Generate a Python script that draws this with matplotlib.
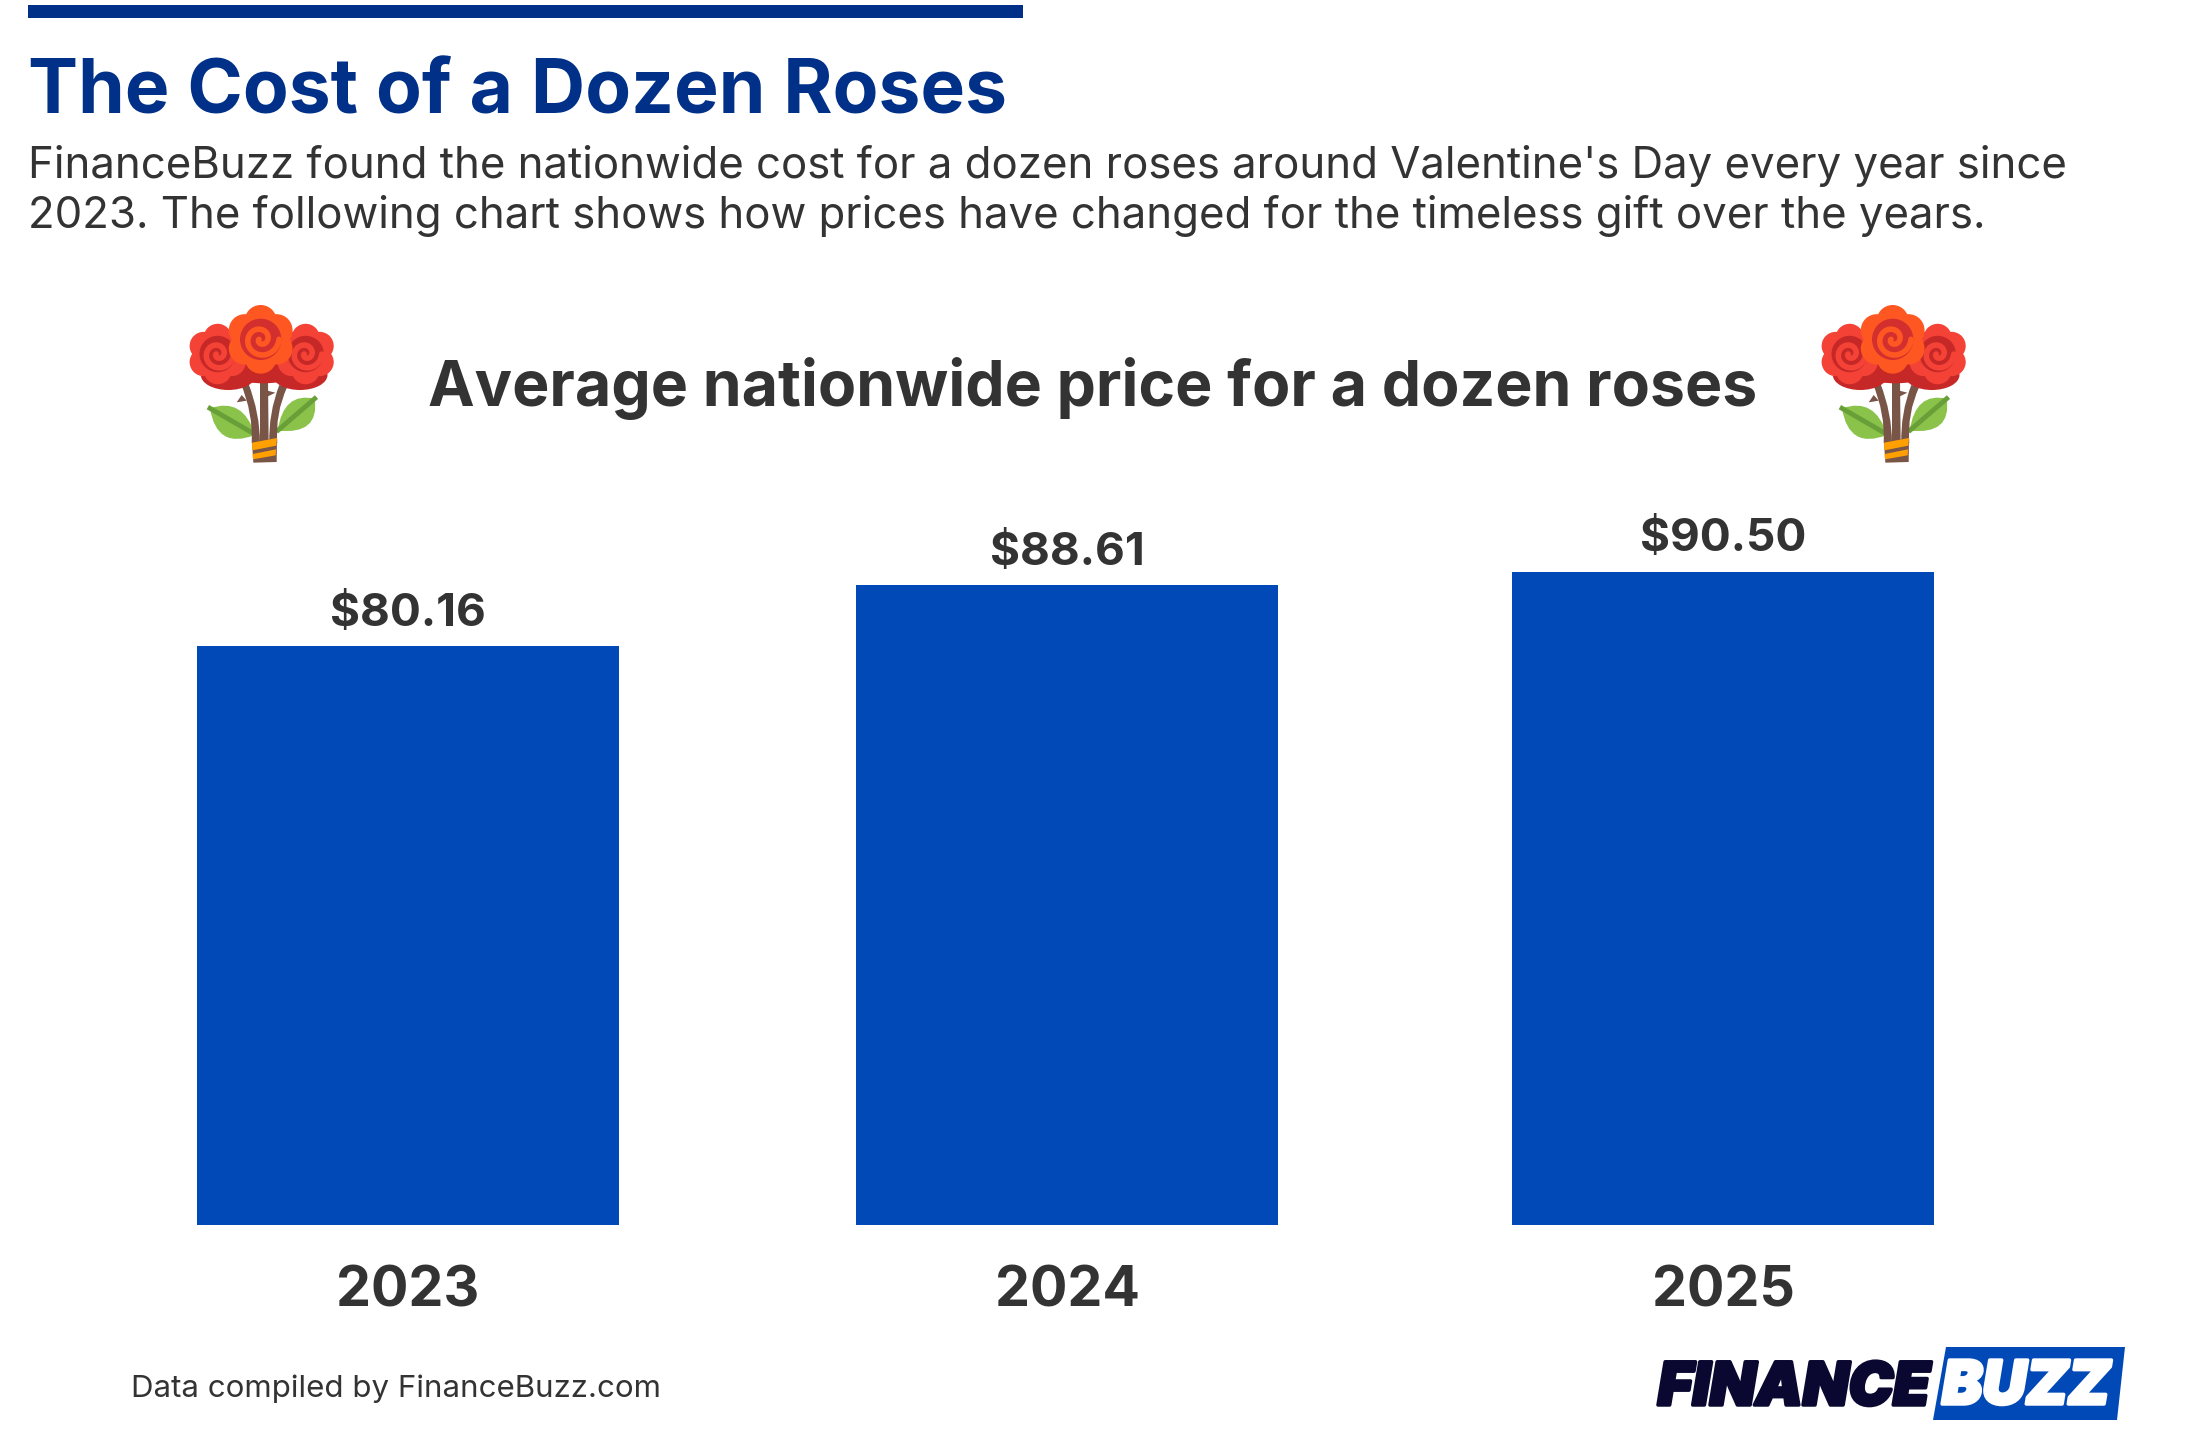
import numpy as np
import matplotlib
matplotlib.use("Agg")
import matplotlib.pyplot as plt
import matplotlib.patheffects as pe
from matplotlib.patches import Polygon, Circle, Ellipse, Rectangle, PathPatch
from matplotlib.path import Path

years = ["2023", "2024", "2025"]
prices = [80.16, 88.61, 90.50]
price_labels = ["$80.16", "$88.61", "$90.50"]

TITLE = "The Cost of a Dozen Roses"
SUB1 = "FinanceBuzz found the nationwide cost for a dozen roses around Valentine's Day every year since"
SUB2 = "2023. The following chart shows how prices have changed for the timeless gift over the years."
HEAD = "Average nationwide price for a dozen roses"
FOOT = "Data compiled by FinanceBuzz.com"

W, H = 2187, 1453
BLUE = "#0049B7"
NAVY = "#003087"
DARK = "#333333"
plt.rcParams["font.family"] = "Inter"

fig = plt.figure(figsize=(W / 100, H / 100), dpi=100, facecolor="white")

# chart axes
L, R, T, B = 78.05, 2055.95, 503, 1225
ax = fig.add_axes([L / W, 1 - B / H, (R - L) / W, (B - T) / H])
x = np.array([0, 1, 1.9955])
ax.bar(x, prices, width=0.64, color=BLUE)
ax.set_xlim(-0.5, 2.5)
ax.set_ylim(0, 100)
ax.set_xticks(x, years, fontsize=40, fontweight="bold", color=DARK)
ax.set_yticks([])
ax.tick_params(axis="x", length=0, pad=29.5)
for s in ax.spines.values():
    s.set_visible(False)
ax.patch.set_alpha(0)
for xi, v, lab in zip(x, prices, price_labels):
    ax.annotate(lab, (xi, v), xytext=(0, 8), textcoords="offset points", ha="center",
                va="bottom", fontsize=33, fontweight="bold", color=DARK)

# overlay in pixel coordinates
ov = fig.add_axes([0, 0, 1, 1], zorder=5)
ov.set_xlim(0, W)
ov.set_ylim(H, 0)
ov.axis("off")

ov.add_patch(Rectangle((28, 5), 995, 13, color=NAVY, lw=0))
ov.text(28, 114, TITLE, fontsize=54, fontweight="bold", color=NAVY, va="baseline")
ov.text(28, 178, SUB1, fontsize=31.5, color=DARK, va="baseline")
ov.text(28, 228, SUB2, fontsize=31.5, color=DARK, va="baseline")
ov.text(1093, 406, HEAD, fontsize=45, fontweight="bold", color=DARK, va="baseline", ha="center")
ov.text(131, 1397, FOOT, fontsize=22.5, color=DARK, va="baseline")


def flower(px, py, cx, cy, r, light, dark, z):
    c = (px(cx), py(cy))
    s = 1 / 3
    for a in np.linspace(0, 2 * np.pi, 6, endpoint=False):
        ov.add_patch(Circle((px(cx + 0.55 * r * np.sin(a)), py(cy - 0.55 * r * np.cos(a))),
                            0.48 * r * s, color=light, lw=0, zorder=z))
    ov.add_patch(Circle(c, 0.72 * r * s, color=light, lw=0, zorder=z))
    ov.add_patch(Circle(c, 0.62 * r * s, color=dark, lw=0, zorder=z))
    t = np.linspace(0, 3.0 * np.pi, 120)
    rad = 0.5 * r * (1 - t / t[-1]) + 0.05 * r
    ov.plot(px(cx + rad * np.cos(t)), py(cy + rad * np.sin(t)), color=light, lw=4,
            zorder=z, solid_capstyle="round")


def bouquet(ox, oy):
    px = lambda v: ox + np.asarray(v) / 3
    py = lambda v: oy + np.asarray(v) / 3
    brown = "#795548"
    z = 6

    def poly(pts, col, zz=z):
        pts = np.array(pts, float)
        ov.add_patch(Polygon(np.c_[px(pts[:, 0]), py(pts[:, 1])], closed=True, color=col, lw=0, zorder=zz))

    def curve(pts, col, zz=z):
        pts = np.array(pts, float)
        codes = [Path.MOVETO] + [Path.CURVE3] * 2 + [Path.LINETO] + [Path.CURVE3] * 2 + [Path.CLOSEPOLY]
        v = np.c_[px(pts[:, 0]), py(pts[:, 1])]
        v = np.vstack([v, v[0]])
        ov.add_patch(PathPatch(Path(v, codes), facecolor=col, lw=0, zorder=zz))

    # leaves
    curve([(180, 385), (280, 350), (315, 465), (315, 465), (200, 510), (180, 385)], "#8BC34A")
    curve([(494, 356), (510, 465), (383, 452), (383, 452), (400, 335), (494, 356)], "#8BC34A")
    ov.plot(px([180, 315]), py([385, 463]), color="#689F38", lw=3.5, zorder=z + 1)
    ov.plot(px([494, 385]), py([356, 450]), color="#689F38", lw=3.5, zorder=z + 1)
    # stems
    curve([(272, 310), (310, 400), (305, 490), (330, 490), (330, 400), (295, 310)], brown, z + 1)
    curve([(388, 315), (355, 400), (358, 490), (382, 490), (375, 400), (412, 320)], brown, z + 1)
    poly([(330, 300), (354, 300), (356, 490), (330, 490)], brown, z + 1)
    poly([(275, 345), (260, 367), (290, 362)], brown, z + 1)
    poly([(352, 332), (376, 338), (352, 350)], brown, z + 1)
    # wrap
    poly([(306, 488), (381, 474), (380, 546), (310, 548)], brown, z + 2)
    poly([(306, 488), (381, 474), (379, 497), (307, 511)], "#FFA000", z + 3)
    poly([(308, 522), (378, 508), (377, 526), (309, 538)], "#FFA000", z + 3)
    # blossoms
    for ex, ey, ew, eh in [(235, 285, 165, 90), (340, 270, 220, 80), (450, 285, 165, 90)]:
        ov.add_patch(Ellipse((px(ex), py(ey)), ew / 3, eh / 3, color="#C62828", lw=0, zorder=z + 4))
    flower(px, py, 203, 222, 88, "#F44336", "#C62828", z + 5)
    flower(px, py, 467, 222, 88, "#F44336", "#C62828", z + 5)
    flower(px, py, 332, 178, 100, "#FF5722", "#D32F2F", z + 6)


bouquet(150, 280)
bouquet(150 + 1632, 280)

# logo
ov.add_patch(Polygon([(1946, 1347), (2125, 1347), (2117, 1420), (1933, 1420)], closed=True,
                     color=BLUE, lw=0, zorder=6))
ov.text(1794, 1405, "FINANCE", fontfamily="Inter", fontweight="black", fontstyle="italic",
        fontsize=42.8, color="#0A0830", ha="center", va="baseline", zorder=7,
        path_effects=[pe.withStroke(linewidth=2.5, foreground="#0A0830")])
ov.text(2026, 1404, "BUZZ", fontfamily="Inter", fontweight="black", fontstyle="italic",
        fontsize=43.5, color="white", ha="center", va="baseline", zorder=7,
        path_effects=[pe.withStroke(linewidth=2.5, foreground="white")])

fig.savefig("out.png", dpi=100, facecolor="white")
